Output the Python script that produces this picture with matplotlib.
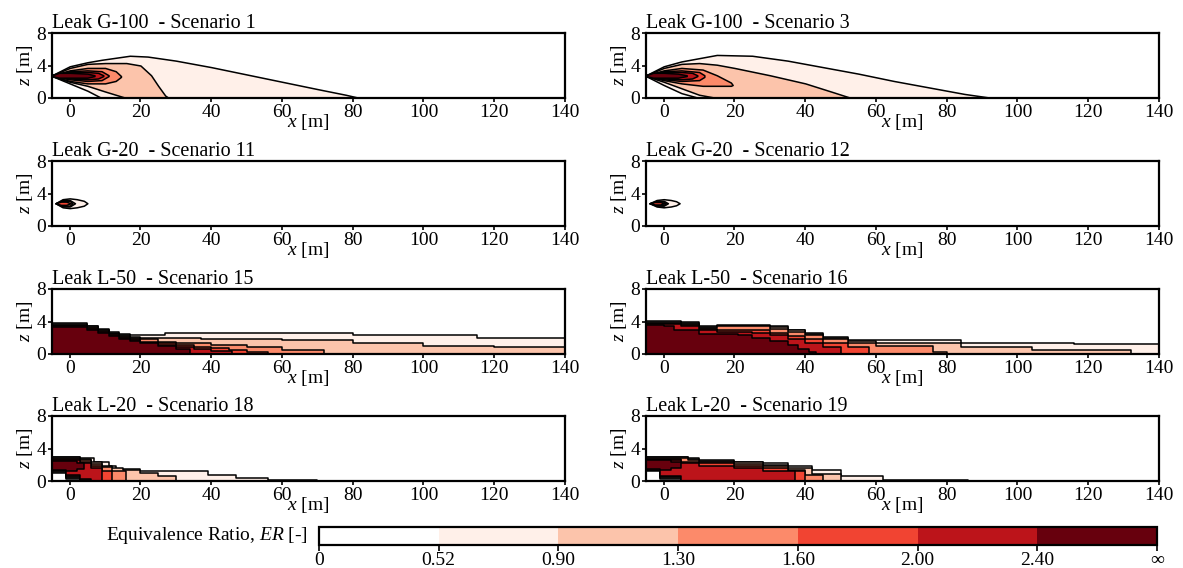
import numpy as np
import matplotlib.pyplot as plt
from matplotlib.colors import ListedColormap, BoundaryNorm
from matplotlib.cm import ScalarMappable

plt.rcParams['font.family'] = ['Liberation Serif', 'DejaVu Serif']
plt.rcParams['mathtext.fontset'] = 'custom'
plt.rcParams['mathtext.rm'] = 'Liberation Serif'
plt.rcParams['mathtext.it'] = 'Liberation Serif:italic'

# ER band limits and colours (0 .. 0.52 is white)
LEVEL_LABELS = ['0', '0.52', '0.90', '1.30', '1.60', '2.00', '2.40', '\u221e']
COLORS = ['#ffffff', '#fff0e9', '#fcc4ab', '#fc8a6a', '#f14432', '#bc141a', '#67000d']

TITLES = ['Leak G-100  - Scenario 1', 'Leak G-100  - Scenario 3',
          'Leak G-20  - Scenario 11', 'Leak G-20  - Scenario 12',
          'Leak L-50  - Scenario 15', 'Leak L-50  - Scenario 16',
          'Leak L-20  - Scenario 18', 'Leak L-20  - Scenario 19']

# envelopes of each ER band (x stations, top z, bottom z), outer band first
SC1_X = [[-5, 0, 5, 9, 17, 22, 30, 40, 50, 60, 70, 78, 82],
         [-5, 0, 5, 10, 16, 20, 23, 25, 27, 28],
         [-5, 0, 5, 10, 13, 14.5],
         [-5, 0, 5, 9, 11],
         [-5, 0, 5, 8, 9.5],
         [-5, -3, 0, 5, 7]]
SC1_TOP = [[2.8, 3.9, 4.4, 4.7, 5.2, 5.1, 4.6, 3.8, 2.9, 2.0, 1.1, 0.4, 0.0],
           [2.8, 3.7, 4.2, 4.3, 4.3, 4.0, 2.8, 1.5, 0.3, 0.0],
           [2.8, 3.4, 3.7, 3.7, 3.3, 2.7],
           [2.8, 3.3, 3.4, 3.3, 2.8],
           [2.8, 3.2, 3.2, 3.1, 2.8],
           [2.8, 3.1, 3.1, 3.0, 2.8]]
SC1_BOT = [[2.7, 1.8, 0.9, 0, 0, 0, 0, 0, 0, 0, 0, 0, 0],
           [2.7, 2.0, 1.5, 0.8, 0, 0, 0, 0, 0, 0],
           [2.7, 2.1, 1.8, 1.8, 2.1, 2.6],
           [2.7, 2.3, 2.1, 2.2, 2.7],
           [2.7, 2.4, 2.3, 2.4, 2.7],
           [2.7, 2.5, 2.5, 2.5, 2.7]]

SC3_X = [[-5, 0, 5, 10, 15, 25, 35, 45, 55, 65, 75, 85, 93],
         [-5, 0, 5, 10, 15, 20, 30, 40, 48, 53],
         [-5, 0, 5, 11, 15, 19, 19.5],
         [-5, 0, 5, 10, 11.5],
         [-5, 0, 5, 8, 9.5],
         [-5, -3, 0, 4, 6.5]]
SC3_TOP = [[2.8, 3.9, 4.5, 4.9, 5.3, 5.2, 4.6, 3.8, 3.0, 2.1, 1.3, 0.5, 0.0],
           [2.8, 3.7, 4.2, 4.3, 4.1, 3.7, 2.8, 1.8, 0.7, 0.0],
           [2.8, 3.4, 3.7, 3.5, 2.8, 1.9, 1.6],
           [2.8, 3.3, 3.4, 3.2, 2.8],
           [2.8, 3.2, 3.2, 3.1, 2.8],
           [2.8, 3.1, 3.1, 3.0, 2.8]]
SC3_BOT = [[2.7, 1.6, 0.6, 0, 0, 0, 0, 0, 0, 0, 0, 0, 0],
           [2.7, 2.0, 1.2, 0.4, 0, 0, 0, 0, 0, 0],
           [2.7, 2.2, 1.8, 1.5, 1.5, 1.5, 1.6],
           [2.7, 2.3, 2.1, 2.2, 2.6],
           [2.7, 2.4, 2.3, 2.4, 2.7],
           [2.7, 2.5, 2.5, 2.5, 2.7]]

SC11_X = [[-4, -2, 0, 2, 4, 5], [-4, -2, 0, 1.5], [-4, -2, 0, 0.8], [-4, -2.5, -1, 0.3]]
SC11_TOP = [[2.8, 3.3, 3.4, 3.3, 3.1, 2.8], [2.8, 3.2, 3.2, 2.8],
            [2.8, 3.1, 3.1, 2.8], [2.8, 3.0, 3.0, 2.8]]
SC11_BOT = [[2.8, 2.3, 2.2, 2.3, 2.5, 2.8], [2.8, 2.4, 2.4, 2.8],
            [2.8, 2.5, 2.5, 2.8], [2.8, 2.6, 2.6, 2.8]]

SC12_X = [[-4, -2, 0, 2, 3.5, 4.5], [-4, -2, 0, 1.2], [-4, -2, 0, 0.6], [-4, -2.5, -1, 0.2]]
SC12_TOP = [[2.8, 3.2, 3.3, 3.2, 3.05, 2.8], [2.8, 3.1, 3.1, 2.8],
            [2.8, 3.0, 3.0, 2.8], [2.8, 2.95, 2.95, 2.8]]
SC12_BOT = [[2.8, 2.4, 2.3, 2.4, 2.55, 2.8], [2.8, 2.5, 2.5, 2.8],
            [2.8, 2.6, 2.6, 2.8], [2.8, 2.65, 2.65, 2.8]]

SC15_X = [[-5, 5, 8, 11, 14, 17, 27, 80, 115, 140],
          [-5, 5, 8, 11, 14, 17, 20, 37, 60, 80, 100, 120, 140],
          [-5, 5, 8, 11, 14, 17, 20, 25, 30, 40, 50, 60, 72],
          [-5, 5, 8, 11, 14, 17, 20, 25, 30, 35, 40, 45, 50, 56],
          [-5, 5, 8, 11, 14, 17, 20, 25, 30, 35, 40, 46],
          [-5, 5, 8, 11, 14, 17, 20, 25, 30, 34]]
SC15_TOP = [[3.8, 3.5, 3.1, 2.7, 2.4, 2.3, 2.6, 2.3, 2.0, 2.0],
            [3.7, 3.4, 3.0, 2.6, 2.3, 2.1, 2.0, 1.9, 1.7, 1.3, 1.0, 0.8, 0.8],
            [3.6, 3.3, 2.9, 2.5, 2.2, 2.0, 1.8, 1.5, 1.3, 1.1, 0.8, 0.5, 0.5],
            [3.5, 3.2, 2.8, 2.4, 2.1, 1.8, 1.5, 1.3, 1.1, 0.9, 0.7, 0.5, 0.3, 0.3],
            [3.4, 3.1, 2.7, 2.3, 2.0, 1.7, 1.4, 1.1, 0.8, 0.6, 0.4, 0.4],
            [3.3, 3.0, 2.6, 2.2, 1.9, 1.6, 1.3, 1.0, 0.6, 0.6]]

SC16_X = [[-5, 5, 10, 15, 30, 35, 40, 45, 52, 84, 116, 140],
          [-5, 5, 10, 15, 30, 35, 40, 45, 52, 60, 84, 104, 132],
          [-5, 5, 10, 15, 30, 35, 40, 45, 52, 60, 76, 80],
          [-5, 5, 10, 15, 25, 30, 35, 40, 45, 52, 58],
          [-5, 5, 10, 15, 25, 30, 35, 40, 45, 50],
          [-5, 0, 3, 10, 21, 25, 30, 35, 38, 41, 43]]
SC16_TOP = [[4.0, 3.9, 3.4, 3.6, 3.4, 3.0, 2.6, 2.1, 1.7, 1.35, 1.2, 1.2],
            [3.9, 3.8, 3.3, 3.5, 3.3, 2.9, 2.5, 2.0, 1.6, 1.3, 0.9, 0.5, 0.5],
            [3.8, 3.7, 3.2, 3.4, 3.1, 2.7, 2.3, 1.8, 1.4, 1.0, 0.3, 0.3],
            [3.7, 3.6, 3.1, 3.0, 2.9, 2.6, 2.2, 1.8, 1.3, 0.9, 0.9],
            [3.65, 3.5, 3.0, 2.7, 2.6, 2.3, 1.9, 1.4, 0.9, 0.9],
            [3.6, 3.4, 3.0, 2.5, 2.3, 2.0, 1.6, 1.1, 0.6, 0.3, 0.3]]

SC18_X = [[-5, -1, 3, 7, 11, 13, 20, 39, 47, 56, 70],
          [-5, -1, 3, 6, 9, 12, 15, 20, 25, 30],
          [-5, -1, 3, 6, 9, 12, 16],
          [-5, -1, 3, 6, 9, 12],
          [-5, -1, 3, 6, 9],
          [-5, -1, 2, 4]]
SC18_TOP = [[3.0, 3.0, 2.8, 2.3, 1.8, 1.5, 1.2, 0.7, 0.35, 0.15, 0.15],
            [2.9, 2.9, 2.7, 2.3, 1.9, 1.6, 1.3, 1.0, 0.6, 0.6],
            [2.8, 2.8, 2.6, 2.1, 1.7, 1.2, 1.2],
            [2.7, 2.7, 2.4, 1.9, 1.2, 1.2],
            [2.6, 2.6, 2.2, 1.6, 1.6],
            [2.5, 2.5, 2.2, 2.2]]
SC18_BOT = [[1.0, 0.3, 0, 0, 0, 0, 0, 0, 0, 0, 0],
            [1.1, 0.4, 0, 0, 0, 0, 0, 0, 0, 0],
            [1.2, 0.5, 0, 0, 0, 0, 0],
            [1.3, 0.6, 0.1, 0, 0, 0],
            [1.3, 0.7, 0.2, 0, 0],
            [1.4, 1.2, 1.5, 1.5]]

SC19_X = [[-5, -1, 7, 10, 20, 28, 35, 42, 50, 62, 86],
          [-5, -1, 7, 10, 20, 28, 35, 42, 50],
          [-5, -1, 7, 10, 20, 28, 35, 40, 45],
          [-5, -1, 5, 10, 20, 28, 35, 40],
          [-5, -1, 5, 10, 20, 28, 37],
          [-5, -1, 2, 5]]
SC19_TOP = [[3.0, 3.0, 2.8, 2.6, 2.4, 2.2, 1.9, 1.3, 0.6, 0.15, 0.15],
            [2.9, 2.9, 2.7, 2.5, 2.3, 2.0, 1.6, 0.9, 0.9],
            [2.8, 2.8, 2.6, 2.4, 2.1, 1.8, 1.4, 0.8, 0.8],
            [2.7, 2.7, 2.4, 2.2, 1.9, 1.6, 1.2, 1.2],
            [2.6, 2.6, 2.2, 1.8, 1.6, 1.2, 1.2],
            [2.6, 2.6, 2.3, 2.3]]
SC19_BOT = [[1.2, 0.3, 0, 0, 0, 0, 0, 0, 0, 0, 0],
            [1.3, 0.4, 0, 0, 0, 0, 0, 0, 0],
            [1.3, 0.5, 0, 0, 0, 0, 0, 0, 0],
            [1.4, 0.6, 0, 0, 0, 0, 0, 0],
            [1.4, 0.6, 0, 0, 0, 0, 0],
            [1.5, 1.3, 1.6, 1.6]]

PANELS = [
    (SC1_X, SC1_TOP, SC1_BOT, None),
    (SC3_X, SC3_TOP, SC3_BOT, None),
    (SC11_X, SC11_TOP, SC11_BOT, None),
    (SC12_X, SC12_TOP, SC12_BOT, None),
    (SC15_X, SC15_TOP, None, 'post'),
    (SC16_X, SC16_TOP, None, 'post'),
    (SC18_X, SC18_TOP, SC18_BOT, 'post'),
    (SC19_X, SC19_TOP, SC19_BOT, 'post'),
]

W, H = 1183, 568
fig = plt.figure(figsize=(W / 100, H / 100), dpi=100)

col_left = [52, 646]
row_top = [33, 161, 289, 416]
ax_w, ax_h = 513, 65

for i, (xs, tops, bots, step) in enumerate(PANELS):
    r, c = divmod(i, 2)
    ax = fig.add_axes([col_left[c] / W, 1 - (row_top[r] + ax_h) / H, ax_w / W, ax_h / H])
    for k in range(len(xs)):
        bot = bots[k] if bots is not None else np.zeros(len(xs[k]))
        ax.fill_between(xs[k], bot, tops[k], step=step, facecolor=COLORS[k + 1],
                        edgecolor='k', linewidth=1.1, zorder=2)
    ax.set_xlim(-5, 140)
    ax.set_ylim(0, 8)
    ax.set_xticks(np.arange(0, 141, 20))
    ax.set_yticks([0, 4, 8])
    ax.tick_params(labelsize=14, length=3, width=1.2, pad=1)
    for s in ax.spines.values():
        s.set_linewidth(1.6)
    ax.set_xlabel('$x$ [m]', fontsize=14)
    ax.xaxis.set_label_coords(0.5, -0.22)
    ax.set_ylabel('$z$ [m]', fontsize=14, labelpad=1)
    ax.set_title(TITLES[i], loc='left', fontsize=14.5, pad=1)

# colour bar
cax = fig.add_axes([319 / W, 1 - 545 / H, 838 / W, 18 / H])
sm = ScalarMappable(norm=BoundaryNorm(np.arange(8), 7), cmap=ListedColormap(COLORS))
cb = fig.colorbar(sm, cax=cax, orientation='horizontal', ticks=np.arange(8))
cb.set_ticklabels(LEVEL_LABELS)
cb.outline.set_linewidth(1.6)
cax.tick_params(labelsize=14, length=4, width=1.2, pad=1)
fig.text(308 / W, 1 - 535 / H, 'Equivalence Ratio, $ER$ [-]', ha='right', va='center', fontsize=14)

fig.savefig('out.png', dpi=100)
